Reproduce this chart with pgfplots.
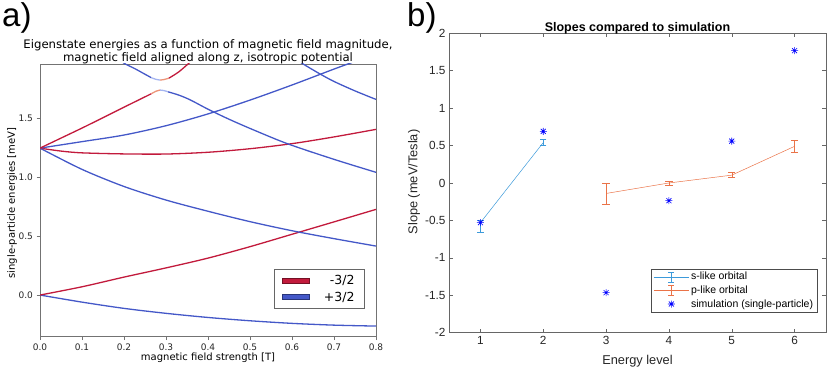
\documentclass[border=0pt]{standalone}
\usepackage{pgfplots}
\pgfplotsset{compat=1.18}
\usepackage{fontspec}
\setmainfont{DejaVu Sans}
\newfontfamily\arial{Liberation Sans}
\definecolor{cRed}{HTML}{C21A3C}
\definecolor{cBlue}{HTML}{4458C8}
\definecolor{cRedPale}{HTML}{EC9478}
\definecolor{cBluePale}{HTML}{A4B4F0}
\definecolor{cS}{HTML}{3C9ADA}
\definecolor{cP}{HTML}{EA7348}
\definecolor{cStar}{HTML}{0000FF}
\definecolor{mgray}{HTML}{262626}
% 8-armed star like the matlab '*' marker
\pgfdeclareplotmark{star8}{%
  \pgfpathmoveto{\pgfqpoint{-\pgfplotmarksize}{0pt}}\pgfpathlineto{\pgfqpoint{\pgfplotmarksize}{0pt}}%
  \pgfpathmoveto{\pgfqpoint{0pt}{-\pgfplotmarksize}}\pgfpathlineto{\pgfqpoint{0pt}{\pgfplotmarksize}}%
  \pgfpathmoveto{\pgfqpoint{-0.707\pgfplotmarksize}{-0.707\pgfplotmarksize}}\pgfpathlineto{\pgfqpoint{0.707\pgfplotmarksize}{0.707\pgfplotmarksize}}%
  \pgfpathmoveto{\pgfqpoint{-0.707\pgfplotmarksize}{0.707\pgfplotmarksize}}\pgfpathlineto{\pgfqpoint{0.707\pgfplotmarksize}{-0.707\pgfplotmarksize}}%
  \pgfusepathqstroke}
\pgfplotsset{
  starlegend/.style={legend image code/.code={\draw[mark repeat=2, mark phase=2, ##1] plot coordinates {(0pt,0pt)(17.5pt,0pt)(35pt,0pt)};}},
  ebarlegend/.style={legend image code/.code={%
    \draw[draw=#1, line width=0.5pt] (0pt,0pt) -- (35pt,0pt);
    \draw[draw=#1, line width=0.5pt] (17.5pt,-5pt) -- (17.5pt,5pt) (14.5pt,-5pt) -- (20.5pt,-5pt) (14.5pt,5pt) -- (20.5pt,5pt);}},
}

\begin{document}
\begin{tikzpicture}
\path[use as bounding box] (0pt,0pt) rectangle (830pt,369pt);

% ---------- panel a ----------
\begin{axis}[
  at={(40pt,32.3pt)}, anchor=south west,
  scale only axis, width=336pt, height=272.7pt,
  xmin=0, xmax=0.8, ymin=-0.353, ymax=1.958,
  xtick={0,0.1,0.2,0.3,0.4,0.5,0.6,0.7,0.8},
  xticklabels={0.0,0.1,0.2,0.3,0.4,0.5,0.6,0.7,0.8},
  ytick={0,0.5,1,1.5},
  yticklabels={0.0,0.5,1.0,1.5},
  tick align=outside, tick pos=left,
  major tick length=3.5pt,
  axis line style={black!55, line width=0.8pt},
  tick style={black!55, line width=0.8pt},
  ticklabel style={font=\fontsize{9}{10}\selectfont, text=black!85},
  every axis plot/.append style={line width=1.3pt, smooth, forget plot},
  legend style={at={(0.967,0.1016)}, anchor=south east, draw=black!60,
    line width=0.8pt, inner xsep=8pt, inner ysep=4pt, row sep=2pt,
    /tikz/every odd column/.append style={column sep=12pt},
    font=\fontsize{12.5}{14}\selectfont},
  legend cell align=right,
]
\addlegendimage{legend image code/.code={\draw[fill=cRed, draw=cRed!60!black, line width=0.5pt] (0pt,-2.5pt) rectangle (27pt,2.5pt);}}
\addlegendentry{-3/2}
\addlegendimage{legend image code/.code={\draw[fill=cBlue, draw=cBlue!60!black, line width=0.5pt] (0pt,-2.5pt) rectangle (27pt,2.5pt);}}
\addlegendentry{+3/2}
% lowest levels
\addplot[cBlue] coordinates {(0,0)(0.1,-0.06)(0.2,-0.113)(0.3,-0.155)(0.4,-0.19)(0.5,-0.218)(0.6,-0.24)(0.7,-0.255)(0.8,-0.263)};
\addplot[cRed] coordinates {(0,0)(0.1,0.07)(0.2,0.152)(0.3,0.23)(0.4,0.313)(0.5,0.41)(0.6,0.515)(0.7,0.62)(0.8,0.726)};
% p-shell
\addplot[cBlue] coordinates {(0,1.245)(0.1,1.065)(0.2,0.92)(0.3,0.805)(0.4,0.71)(0.5,0.622)(0.6,0.545)(0.7,0.478)(0.8,0.415)};
\addplot[cRed] coordinates {(0,1.245)(0.05,1.22)(0.1,1.205)(0.2,1.196)(0.3,1.195)(0.4,1.21)(0.5,1.24)(0.6,1.283)(0.7,1.34)(0.8,1.404)};
\addplot[cBlue] coordinates {(0,1.245)(0.1,1.30)(0.2,1.356)(0.3,1.435)(0.4,1.535)(0.5,1.652)(0.6,1.78)(0.7,1.915)(0.75,1.98)};
% lower anticrossing branch
\addplot[cRed] coordinates {(0,1.245)(0.05,1.33)(0.1,1.415)(0.15,1.503)(0.2,1.592)(0.24,1.662)(0.265,1.706)};
\addplot[cRedPale] coordinates {(0.265,1.706)(0.276,1.727)(0.286,1.737)};
\addplot[cBluePale] coordinates {(0.286,1.737)(0.295,1.733)(0.305,1.722)};
\addplot[cBlue] coordinates {(0.305,1.722)(0.33,1.695)(0.357,1.655)(0.40,1.575)(0.45,1.49)(0.508,1.40)(0.591,1.28)(0.7,1.15)(0.8,1.04)};
% upper anticrossing branch
\addplot[cBlue] coordinates {(0.19,1.99)(0.202,1.96)(0.225,1.92)(0.246,1.879)(0.265,1.842)};
\addplot[cBluePale] coordinates {(0.265,1.842)(0.276,1.828)(0.286,1.822)};
\addplot[cRedPale] coordinates {(0.286,1.822)(0.295,1.826)(0.307,1.838)};
\addplot[cRed] coordinates {(0.307,1.838)(0.33,1.89)(0.353,1.96)(0.362,1.99)};
% upper right
\addplot[cBlue] coordinates {(0.615,1.99)(0.627,1.957)(0.667,1.873)(0.7,1.81)(0.75,1.73)(0.8,1.658)};
\end{axis}

% ---------- panel b ----------
\begin{axis}[
  at={(449pt,36.3pt)}, anchor=south west,
  scale only axis, width=377pt, height=299.4pt,
  xmin=0.5, xmax=6.5, ymin=-2, ymax=2,
  xtick={1,2,3,4,5,6},
  xticklabels={1,2,3,4,5,6},
  ytick={-2,-1.5,-1,-0.5,0,0.5,1,1.5,2},
  yticklabels={-2,-1.5,-1,-0.5,0,0.5,1,1.5,2},
  tick align=inside, major tick length=4pt,
  axis line style={black!60, line width=0.5pt},
  tick style={black!60, line width=0.5pt},
  ticklabel style={font=\arial\fontsize{11.8}{13}\selectfont, text=mgray},
  legend style={at={(0.977,0.068)}, anchor=south east, draw=black!70,
    line width=0.5pt, inner xsep=2pt, inner ysep=1.5pt, row sep=0.5pt,
    font=\arial\fontsize{10.5}{12}\selectfont, text=black},
  legend cell align=left,
]
\addplot[color=cS, line width=0.5pt, mark=none, ebarlegend=cS,
  error bars/.cd, y dir=both, y explicit, error mark=none,
  error bar style={line width=0.5pt, color=cS}]
  table[x=x, y=y, y error plus=ep, y error minus=em] {
x y ep em
1 -0.53 0.03 0.125
2 0.54 0.05 0.03
};
\addlegendentry{s-like orbital}
\addplot[color=cP, line width=0.5pt, mark=none, ebarlegend=cP,
  error bars/.cd, y dir=both, y explicit, error mark=none,
  error bar style={line width=0.5pt, color=cP}]
  table[x=x, y=y, y error plus=ep, y error minus=em] {
x y ep em
3 -0.14 0.14 0.145
4 0.0 0.025 0.03
5 0.105 0.035 0.03
6 0.49 0.075 0.075
};
\addlegendentry{p-like orbital}
% error bar caps (ends of the bars above)
\addplot[forget plot, only marks, mark=-, mark size=3.2pt, color=cS, mark options={line width=0.5pt, draw=cS}]
  coordinates {(1,-0.50)(1,-0.655)(2,0.59)(2,0.51)};
\addplot[forget plot, only marks, mark=-, mark size=3.6pt, color=cP, mark options={line width=0.5pt, draw=cP}]
  coordinates {(3,0.0)(3,-0.285)(4,0.025)(4,-0.03)(5,0.14)(5,0.075)(6,0.565)(6,0.415)};
\addplot[cStar, only marks, mark=star8, mark size=3.5pt, mark options={line width=0.6pt}, starlegend]
  coordinates {(1,-0.53)(2,0.69)(3,-1.465)(4,-0.236)(5,0.56)(6,1.768)};
\addlegendentry{simulation (single-particle)}
\end{axis}

% ---------- text ----------
\node[anchor=base west, font=\arial\fontsize{33}{36}\selectfont, inner sep=0pt] at (2pt,342pt) {a)};
\node[anchor=base west, font=\arial\fontsize{33}{36}\selectfont, inner sep=0pt] at (407pt,342pt) {b)};
\node[anchor=base, font=\fontsize{11.7}{13}\selectfont, inner sep=0pt] at (208pt,320.7pt) {Eigenstate energies as a function of magnetic field magnitude,};
\node[anchor=base, font=\fontsize{11.7}{13}\selectfont, inner sep=0pt] at (208pt,307.3pt) {magnetic field aligned along z, isotropic potential};
\node[font=\fontsize{10}{11}\selectfont, inner sep=0pt] at (208pt,11pt) {magnetic field strength [T]};
\node[font=\fontsize{10}{11}\selectfont, inner sep=0pt, rotate=90] at (12pt,166pt) {single-particle energies [meV]};
\node[anchor=base, font=\arial\bfseries\fontsize{12.5}{14}\selectfont, inner sep=0pt] at (637.5pt,337.3pt) {Slopes compared to simulation};
\node[font=\arial\fontsize{12.8}{14}\selectfont, text=mgray, inner sep=0pt] at (637.5pt,8pt) {Energy level};
\node[font=\arial\fontsize{12.8}{14}\selectfont, text=mgray, inner sep=0pt, rotate=90] at (414pt,187pt) {Slope (meV/Tesla)};
\end{tikzpicture}
\end{document}
